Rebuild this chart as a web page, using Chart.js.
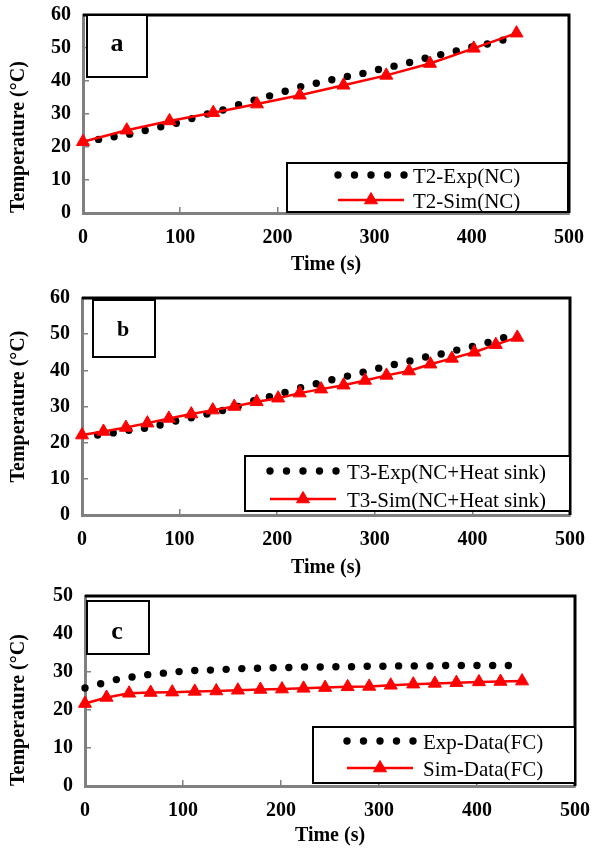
<!DOCTYPE html>
<html>
<head>
<meta charset="utf-8">
<script src="https://cdn.jsdelivr.net/npm/chart.js@4.4.0/dist/chart.umd.min.js"></script>
<style>
body { margin: 0; background: #fff; }
#wrap { position: relative; width: 593px; height: 848px; }
canvas { position: absolute; left: 0; }
</style>
</head>
<body>
<div id="wrap">
  <canvas id="chartA" width="593" height="285" style="top:0px"></canvas>
  <canvas id="chartB" width="593" height="300" style="top:285px"></canvas>
  <canvas id="chartC" width="593" height="273" style="top:575px"></canvas>
</div>
<script>
// (a) natural convection
var timeExpA = [16, 32, 48, 64, 80, 96, 112, 128, 144, 160, 176, 192, 208, 224, 240, 256, 272, 288, 304, 320, 336, 352, 368, 384, 400, 416, 432];
var tempExpA = [22.3, 23.1, 23.9, 25.0, 26.1, 27.2, 28.6, 30.0, 31.2, 32.8, 34.2, 35.5, 36.9, 38.3, 39.3, 40.4, 41.4, 42.3, 43.5, 44.5, 45.6, 46.9, 48.0, 49.1, 50.3, 51.2, 52.4];
var timeSimA = [0, 45, 89, 134, 179, 223, 268, 312, 357, 402, 446];
var tempSimA = [21.6, 25.1, 27.9, 30.4, 33.0, 35.7, 38.7, 41.7, 45.3, 49.9, 54.5];

// (b) natural convection + heat sink
var timeExpB = [16, 32, 48, 64, 80, 96, 112, 128, 144, 160, 176, 192, 208, 224, 240, 256, 272, 288, 304, 320, 336, 352, 368, 384, 400, 416, 432];
var tempExpB = [22.1, 22.7, 23.4, 24.0, 24.9, 26.0, 26.9, 27.9, 28.9, 30.0, 31.6, 32.7, 33.9, 35.2, 36.3, 37.4, 38.4, 39.5, 40.6, 41.6, 42.6, 43.7, 44.5, 45.6, 46.6, 47.7, 49.0];
var timeSimB = [0, 22, 45, 67, 89, 112, 134, 156, 179, 201, 223, 245, 268, 290, 312, 335, 357, 379, 402, 424, 446];
var tempSimB = [22.1, 23.1, 24.2, 25.4, 26.7, 27.9, 29.0, 30.0, 31.3, 32.3, 33.7, 34.8, 35.9, 37.2, 38.6, 39.8, 41.7, 43.3, 45.0, 47.1, 49.1];

// (c) forced convection
var timeExpC = [0, 16, 32, 48, 64, 80, 96, 112, 128, 144, 160, 176, 192, 208, 224, 240, 256, 272, 288, 304, 320, 336, 352, 368, 384, 400, 416, 432];
var tempExpC = [25.8, 26.9, 28.0, 28.7, 29.3, 29.7, 30.1, 30.4, 30.5, 30.7, 30.9, 31.0, 31.1, 31.2, 31.3, 31.3, 31.4, 31.4, 31.5, 31.5, 31.6, 31.6, 31.6, 31.7, 31.7, 31.7, 31.7, 31.7];
var timeSimC = [0, 22, 45, 67, 89, 112, 134, 156, 179, 201, 223, 245, 268, 290, 312, 335, 357, 379, 402, 424, 446];
var tempSimC = [21.7, 23.3, 24.4, 24.6, 24.7, 24.9, 25.0, 25.2, 25.4, 25.5, 25.7, 25.9, 26.1, 26.2, 26.5, 26.8, 27.0, 27.2, 27.4, 27.5, 27.6];

var xTicks = [0, 100, 200, 300, 400, 500];
var serif = '"Times New Roman", "Liberation Serif", serif';

function toPoints(xs, ys) {
  return xs.map(function (x, i) { return { x: x, y: ys[i] }; });
}

// frame, panel letter and boxed legend
var decor = {
  id: 'decor',
  afterDraw: function (chart, args, o) {
    var ctx = chart.ctx;
    var a = chart.chartArea;
    ctx.save();
    // black top/right border
    ctx.strokeStyle = '#000';
    ctx.lineWidth = 3;
    ctx.beginPath();
    ctx.moveTo(a.left, a.top);
    ctx.lineTo(a.right, a.top);
    ctx.lineTo(a.right, a.bottom);
    ctx.stroke();

    // panel letter
    ctx.lineWidth = 2;
    ctx.fillStyle = '#fff';
    ctx.fillRect(o.tag.x, o.tag.y, o.tag.w, o.tag.h);
    ctx.strokeRect(o.tag.x, o.tag.y, o.tag.w, o.tag.h);
    ctx.fillStyle = '#000';
    ctx.font = 'bold ' + o.tag.size + 'px ' + serif;
    ctx.textAlign = 'center';
    ctx.textBaseline = 'middle';
    ctx.fillText(o.tag.text, o.tag.cx, o.tag.cy);

    // legend
    var L = o.legend;
    ctx.fillStyle = '#fff';
    ctx.fillRect(L.x, L.y, L.w, L.h);
    ctx.strokeStyle = '#000';
    ctx.strokeRect(L.x, L.y, L.w, L.h);
    ctx.font = '21px ' + serif;
    ctx.textAlign = 'left';
    chart.data.datasets.forEach(function (ds, i) {
      var ry = L.rows[i];
      if (ds.showLine === false) {
        ctx.fillStyle = ds.backgroundColor;
        for (var k = 0; k < 5; k++) {
          var px = L.x0 + (L.x1 - L.x0) * k / 4;
          ctx.beginPath();
          ctx.arc(px, ry, ds.pointRadius, 0, Math.PI * 2);
          ctx.fill();
        }
      } else {
        ctx.strokeStyle = ds.borderColor;
        ctx.lineWidth = ds.borderWidth;
        ctx.beginPath();
        ctx.moveTo(L.x0, ry);
        ctx.lineTo(L.x1, ry);
        ctx.stroke();
        ctx.fillStyle = ds.backgroundColor;
        ctx.lineWidth = 1;
        Chart.helpers.drawPoint(ctx, { pointStyle: 'triangle', radius: ds.pointRadius, rotation: 0, borderWidth: 1 },
          (L.x0 + L.x1) / 2, ry);
      }
      ctx.fillStyle = '#000';
      ctx.textBaseline = 'middle';
      ctx.fillText(ds.label, L.tx, ry + 2);
    });
    ctx.restore();
  }
};

function makeChart(id, cfg) {
  var tickFont = { family: serif, size: 20, weight: 'bold' };
  return new Chart(document.getElementById(id), {
    type: 'scatter',
    data: {
      datasets: [{
        label: cfg.expLabel,
        data: toPoints(cfg.expX, cfg.expY),
        showLine: false,
        pointStyle: 'circle',
        pointRadius: 3.7,
        pointBorderWidth: 0,
        backgroundColor: '#000',
        borderColor: '#000',
        order: 1,
        clip: false
      }, {
        label: cfg.simLabel,
        data: toPoints(cfg.simX, cfg.simY),
        showLine: true,
        borderColor: '#ff0000',
        backgroundColor: '#ff0000',
        borderWidth: 2.5,
        pointStyle: 'triangle',
        pointRadius: 7.5,
        pointBorderWidth: 1,
        tension: 0,
        order: 0,
        clip: false
      }]
    },
    options: {
      responsive: false,
      animation: false,
      devicePixelRatio: 1,
      layout: { padding: { top: cfg.padTop, right: cfg.padRight, left: 0, bottom: 0 } },
      scales: {
        x: {
          type: 'linear',
          min: 0, max: 500,
          afterBuildTicks: function (s) { s.ticks = xTicks.map(function (v) { return { value: v }; }); },
          afterFit: function (s) { s.height = cfg.xHeight; s.paddingLeft = 0; s.paddingRight = 0; },
          ticks: { color: '#000', font: tickFont, padding: 19 },
          grid: { drawOnChartArea: false, tickLength: -6, color: '#808080', lineWidth: 1.5 },
          border: { color: '#808080', width: 3 },
          title: { display: true, text: 'Time (s)', color: '#000', font: tickFont, padding: { top: 0, bottom: cfg.xTitlePad } }
        },
        y: {
          min: 0, max: cfg.yMax,
          afterBuildTicks: function (s) { s.ticks = cfg.yTicks.map(function (v) { return { value: v }; }); },
          afterFit: function (s) { s.width = cfg.yWidth; s.paddingTop = 0; s.paddingBottom = 0; },
          ticks: { color: '#000', font: tickFont, padding: 18 },
          grid: { drawOnChartArea: false, tickLength: -6, color: '#808080', lineWidth: 1.5 },
          border: { color: '#808080', width: 3 },
          title: { display: true, text: 'Temperature (°C)', color: '#000', font: tickFont, align: cfg.yTitleAlign, padding: { top: 7, bottom: 0 } }
        }
      },
      plugins: {
        legend: { display: false },
        tooltip: { enabled: false },
        decor: { tag: cfg.tag, legend: cfg.legend }
      }
    },
    plugins: [decor]
  });
}

makeChart('chartA', {
  expX: timeExpA, expY: tempExpA, simX: timeSimA, simY: tempSimA,
  expLabel: 'T2-Exp(NC)', simLabel: 'T2-Sim(NC)',
  yMax: 60, yTicks: [0, 10, 20, 30, 40, 50, 60],
  padTop: 15, padRight: 24, xHeight: 72, yWidth: 83, xTitlePad: 8, yTitleAlign: 'start',
  tag: { text: 'a', x: 87, y: 15, w: 60, h: 62, cx: 117, cy: 44, size: 26 },
  legend: { x: 287, y: 163, w: 281, h: 49, rows: [175, 200], x0: 338, x1: 404, tx: 413 }
});

makeChart('chartB', {
  expX: timeExpB, expY: tempExpB, simX: timeSimB, simY: tempSimB,
  expLabel: 'T3-Exp(NC+Heat sink)', simLabel: 'T3-Sim(NC+Heat sink)',
  yMax: 60, yTicks: [0, 10, 20, 30, 40, 50, 60],
  padTop: 13, padRight: 23, xHeight: 70, yWidth: 82, xTitlePad: 5, yTitleAlign: 'center',
  tag: { text: 'b', x: 93, y: 15, w: 62, h: 57, cx: 123, cy: 45, size: 22 },
  legend: { x: 245, y: 171, w: 325, h: 55, rows: [186, 214], x0: 270, x1: 336, tx: 347 }
});

makeChart('chartC', {
  expX: timeExpC, expY: tempExpC, simX: timeSimC, simY: tempSimC,
  expLabel: 'Exp-Data(FC)', simLabel: 'Sim-Data(FC)',
  yMax: 50, yTicks: [0, 10, 20, 30, 40, 50],
  padTop: 21, padRight: 18, xHeight: 62, yWidth: 85, xTitlePad: 0, yTitleAlign: 'start',
  tag: { text: 'c', x: 87, y: 26, w: 62, h: 53, cx: 117, cy: 57, size: 26 },
  legend: { x: 313, y: 152, w: 262, h: 56, rows: [166, 193], x0: 347, x1: 413, tx: 423 }
});
</script>
</body>
</html>
